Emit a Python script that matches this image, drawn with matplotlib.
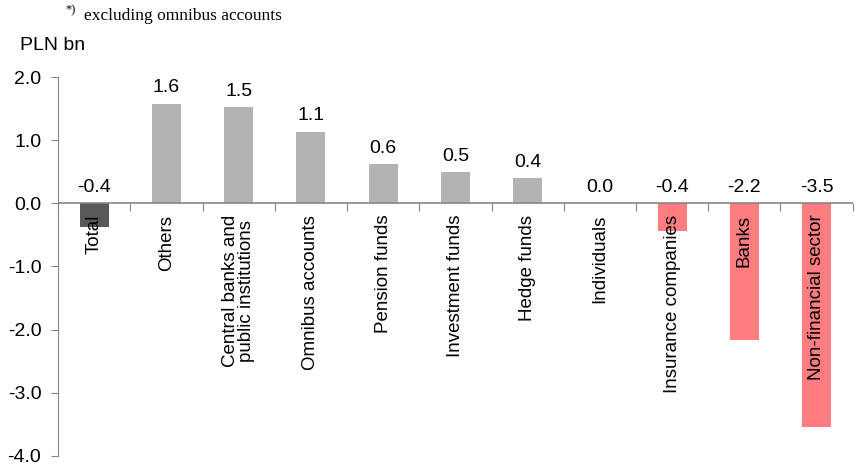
import numpy as np
import matplotlib.pyplot as plt

plt.rcParams['font.family'] = ['Liberation Sans', 'DejaVu Sans']

categories = ['Total', 'Others', 'Central banks and\npublic institutions',
              'Omnibus accounts', 'Pension funds', 'Investment funds',
              'Hedge funds', 'Individuals', 'Insurance companies', 'Banks',
              'Non-financial sector']
values = [-0.38, 1.58, 1.52, 1.13, 0.62, 0.49, 0.40, 0.0, -0.43, -2.17, -3.54]
yticks = [2.0, 1.0, 0.0, -1.0, -2.0, -3.0, -4.0]

GREY_AXIS = '#868686'
colors = []
for i, v in enumerate(values):
    if i == 0:
        colors.append('#595959')
    elif v < 0:
        colors.append('#ff7c80')
    else:
        colors.append('#b3b3b3')

fig = plt.figure(figsize=(8.61, 4.70), dpi=100)
ax = fig.add_axes([0.0674, 0.030, 0.923, 0.806])

x = np.arange(len(categories))
ax.bar(x, values, width=0.4, color=colors, zorder=2)

ax.set_xlim(-0.5, len(categories) - 0.5)
ax.set_ylim(-4.0, 2.0)
ax.set_yticks(yticks)
ax.set_yticklabels(['{:.1f}'.format(t) for t in yticks], fontsize=14)
ax.set_xticks(np.arange(len(categories) + 1) - 0.5)
ax.set_xticklabels([])
ax.tick_params(axis='y', direction='out', length=5, color=GREY_AXIS, pad=7)
ax.tick_params(axis='x', direction='out', length=6, color=GREY_AXIS)

for s in ['top', 'right', 'bottom']:
    ax.spines[s].set_visible(False)
ax.spines['left'].set_color(GREY_AXIS)
ax.axhline(0, color=GREY_AXIS, lw=1.2, zorder=3)
# move x ticks onto the zero line
ax.spines['bottom'].set_position(('data', 0))

for xi, v, name in zip(x, values, categories):
    ytxt = max(v, 0) + 0.12
    ax.text(xi, ytxt, '{:.1f}'.format(v), ha='center', va='bottom', fontsize=14)
    ax.text(xi, -0.18, name, rotation=90, ha='center', va='top', fontsize=13.5,
            linespacing=0.95, zorder=4)

fig.text(0.023, 0.904, 'PLN bn', fontsize=14, va='center')
serif = ['Liberation Serif', 'DejaVu Serif']
fig.text(0.0755, 0.978, '*)', fontsize=9, va='center', family=serif)
fig.text(0.097, 0.966, 'excluding omnibus accounts', fontsize=12.5,
         va='center', family=serif)

fig.savefig('out.png', dpi=100)
